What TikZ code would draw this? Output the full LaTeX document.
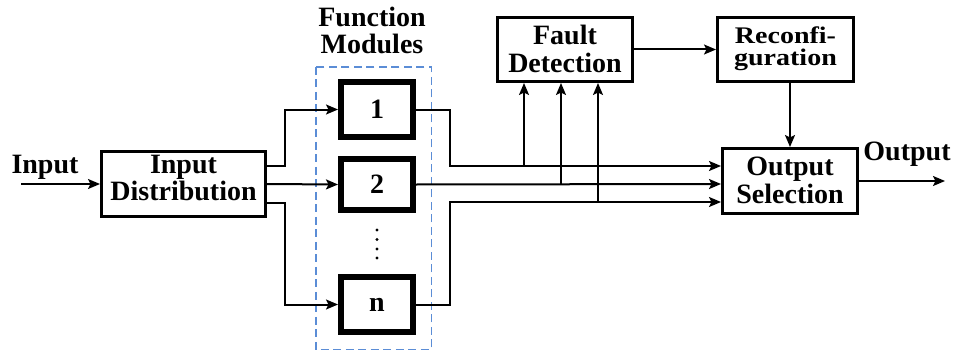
\documentclass[tikz,border=0pt]{standalone}
\usepackage{fontspec}
\usepackage{graphicx}
\setmainfont{Liberation Serif}
\usetikzlibrary{arrows.meta,calc}
\definecolor{dashblue}{RGB}{91,141,214}
\newcommand{\twol}[3]{{\fontsize{28}{#3}\selectfont\bfseries\begin{tabular}[t]{@{}c@{}}#1\\#2\end{tabular}}}
\tikzset{
  blk/.style={draw=black,line width=3pt,minimum width=#1,inner sep=0pt},
  modbox/.style={draw=black,line width=6pt,minimum width=72pt,inner sep=0pt,font=\fontsize{28}{27}\selectfont\bfseries},
  txt/.style={inner sep=0pt,anchor=base},
  arr/.style={line width=2pt,-{Stealth[length=12pt,width=10pt,inset=2.5pt]}},
  dashedbox/.style={draw=dashblue,line width=1.5pt,dash pattern=on 8pt off 4.5pt}
}
\begin{document}
\begin{tikzpicture}[x=1pt,y=-1pt]
\useasboundingbox (0,0) rectangle (955,353);
% boxes
\node[blk=164pt,minimum height=65pt] (ID) at (183.5,184) {};
\node[blk=135pt,minimum height=64pt] (FD) at (565,49.5) {};
\node[blk=136pt,minimum height=64pt] (R) at (785.5,49.5) {};
\node[blk=135pt,minimum height=65pt] (OS) at (790,181) {};
\node[modbox,minimum height=55pt] (M1) at (377,109.5) {1};
\node[modbox,minimum height=51pt] (M2) at (377,184.5) {2};
\node[modbox,minimum height=55pt] (Mn) at (377,304.5) {n};
% dashed group
\draw[dashedbox] (315.75,66.75) rectangle (431.25,349.25);
% texts
\node[txt] (tID) at (183.5,173) {\twol{Input}{Distribution}{27}};
\node[txt] (tFD) at (565,45) {\twol{Fault}{Detection}{27}};
\node[txt] (tOS) at (790,175) {\twol{Output}{Selection}{28}};
\node[txt] (tR) at (785.5,43.3) {\scalebox{1}[0.85]{\twol{Reconfi-}{guration}{21.6}}};
\node[txt] (tFM) at (372,27) {\twol{Function}{Modules}{25}};
\node[txt] (tin) at (45,173) {\fontsize{28}{28}\selectfont\bfseries Input};
\node[txt] (tout) at (907,160) {\fontsize{28}{28}\selectfont\bfseries Output};
% dots
\foreach \yy in {230,239.5,249,258} \fill (377,\yy) circle (1.6pt);
% connectors
\coordinate (inS) at (21,184);
\draw[arr] (inS) -- (ID.west);
\draw[arr] ([yshift=18pt]ID.east) -- ++(18,0) |- (M1.west);
\draw[arr] (ID.east) -- (M2.west);
\draw[arr] ([yshift=-19pt]ID.east) -- ++(18,0) |- (Mn.west);
\draw[arr] (M1.east) -- ++(34,0) |- ([yshift=15pt]OS.west);
\draw[arr] (M2.east) -- ([yshift=-3pt]OS.west);
\draw[arr] (Mn.east) -- ++(34,0) |- ([yshift=-21pt]OS.west);
\coordinate (j1) at (524,166);
\coordinate (j2) at (561,184);
\coordinate (j3) at (598,202);
\draw[arr] (j1) -- (j1 |- FD.south);
\draw[arr] (j2) -- (j2 |- FD.south);
\draw[arr] (j3) -- (j3 |- FD.south);
\draw[arr] (FD.east) -- (R.west);
\draw[arr] (OS.north |- R.south) -- (OS.north);
\coordinate (outE) at (945,181);
\draw[arr] (OS.east) -- (outE);
\end{tikzpicture}
\end{document}
